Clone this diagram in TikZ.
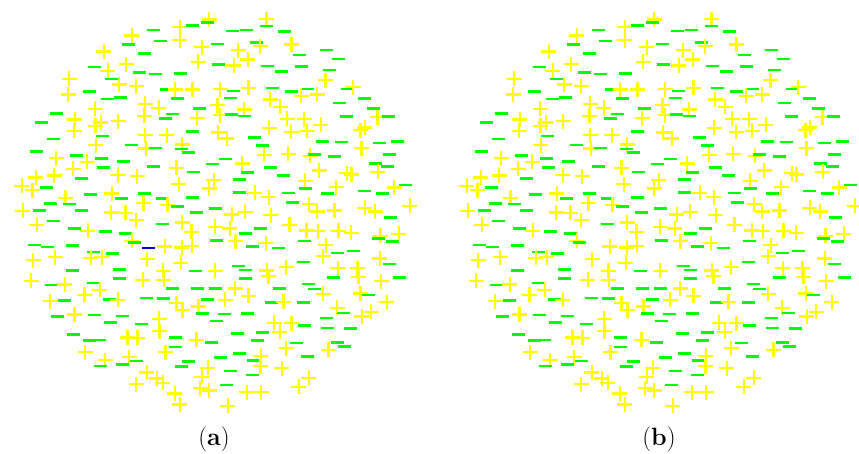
\documentclass[tikz,border=0pt]{standalone}
\usepackage{fontspec}
\usepackage{tikz}
\definecolor{cargapos}{RGB}{255,255,0}
\definecolor{carganeg}{RGB}{0,255,0}
\definecolor{cargasel}{RGB}{0,0,220}

\begin{document}
\begin{tikzpicture}[x=1pt,y=-1pt,
  mas/.style={cargapos,line width=2.2pt},
  menos/.style={carganeg,line width=2.6pt}]
  \useasboundingbox (0,0) rectangle (859,454);
  % dos nubes de cargas, misma semilla
  \foreach \cx/\nom in {214/a,659/b}{
    \pgfmathsetseed{4217}
    \foreach \i in {-11,...,11}{
      \foreach \j in {-11,...,11}{
        \pgfmathsetmacro\px{\i*18+16*(rnd-0.5)}
        \pgfmathsetmacro\py{\j*18+16*(rnd-0.5)}
        \pgfmathtruncatemacro\dentro{((\px/100)^2+(\py/100)^2<3.92)?1:0}
        \pgfmathtruncatemacro\signo{(rnd<0.5)?1:0}
        \ifnum\dentro=1
          \ifnum\signo=1
            \draw[mas] (\cx+\px-7.5,210+\py)--(\cx+\px+7.5,210+\py) (\cx+\px,202.5+\py)--(\cx+\px,217.5+\py);
          \else
            \draw[menos] (\cx+\px-6.5,210+\py)--(\cx+\px+6.5,210+\py);
          \fi
        \fi
      }
    }
    \node (lab\nom) at (\cx,439) {\fontsize{25pt}{30pt}\selectfont(\textbf{\nom})};
  }
  % carga marcada
  \draw[menos,cargasel] (142,248)--(155,248);
\end{tikzpicture}
\end{document}
